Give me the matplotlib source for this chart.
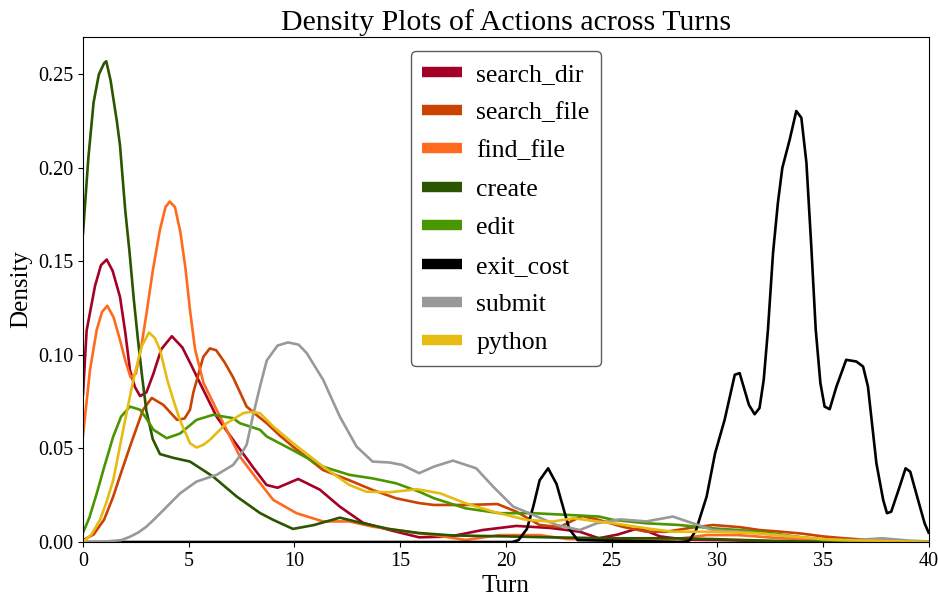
import matplotlib
matplotlib.use('Agg')
import matplotlib.pyplot as plt
from matplotlib.lines import Line2D

plt.rcParams['font.family'] = ['Liberation Serif', 'DejaVu Serif']

# values (turn, density)
create_x = [0, 0.25, 0.5, 0.75, 1.0, 1.1, 1.3, 1.6, 1.75, 2.0, 2.2, 2.4, 2.6, 2.8, 3.0, 3.3, 3.64, 4.27, 5.06,
            6.15, 7.27, 8.37, 9.0, 9.93, 10.9, 12.15, 13.24, 14.5, 15.9, 17.5, 20, 22, 25, 28, 30, 32, 34, 40]
create_y = [0.165, 0.205, 0.235, 0.25, 0.256, 0.257, 0.247, 0.225, 0.212, 0.177, 0.155, 0.13, 0.108, 0.088,
            0.07, 0.055, 0.047, 0.045, 0.043, 0.035, 0.0243, 0.0155, 0.0118, 0.0070, 0.009, 0.013, 0.010,
            0.0069, 0.0048, 0.0035, 0.003, 0.0025, 0.002, 0.002, 0.0015, 0.0008, 0.0002, 0.0]

search_dir_x = [0, 0.17, 0.57, 0.85, 1.12, 1.4, 1.75, 2.0, 2.22, 2.45, 2.7, 3.0, 3.33, 3.7, 4.2, 4.7, 5.1, 5.53,
                6.32, 7.1, 8.04, 8.68, 9.2, 10.18, 11.2, 12.15, 13.24, 14.5, 15.9, 17.35, 18.9, 20.5, 22.1,
                23.5, 24.4, 25.3, 26.3, 27.3, 28.5, 30, 33, 40]
search_dir_y = [0.079, 0.113, 0.137, 0.148, 0.151, 0.145, 0.131, 0.112, 0.092, 0.083, 0.078, 0.08, 0.09,
                0.103, 0.110, 0.104, 0.095, 0.085, 0.067, 0.0546, 0.040, 0.0305, 0.029, 0.0337, 0.028,
                0.0189, 0.0103, 0.0064, 0.0025, 0.0029, 0.0064, 0.0086, 0.0075, 0.0055, 0.002, 0.004,
                0.0075, 0.003, 0.0012, 0.001, 0.0003, 0.0]

search_file_x = [0, 0.5, 1.0, 1.42, 1.8, 2.22, 2.84, 3.25, 3.8, 4.45, 4.8, 5.06, 5.22, 5.69, 6.0, 6.3, 6.7,
                 7.1, 7.74, 8.2, 8.69, 9.3, 9.93, 10.5, 11.35, 12.6, 13.7, 14.8, 15.9, 16.6, 18.1, 19.6,
                 20.5, 21.6, 22.55, 23.6, 24.4, 25.5, 26.65, 27.6, 28.7, 29.8, 31.1, 32, 33, 34, 35, 36,
                 37, 38, 40]
search_file_y = [0.001, 0.004, 0.012, 0.024, 0.037, 0.051, 0.0707, 0.077, 0.0733, 0.0653, 0.066, 0.0707,
                 0.08, 0.099, 0.1035, 0.1025, 0.096, 0.088, 0.0724, 0.068, 0.0635, 0.057, 0.051, 0.046,
                 0.0385, 0.033, 0.0278, 0.0234, 0.0208, 0.0198, 0.0198, 0.0203, 0.0162, 0.0091, 0.008,
                 0.0139, 0.0118, 0.0082, 0.0055, 0.0055, 0.0075, 0.0091, 0.0079, 0.0064, 0.0055, 0.0045,
                 0.003, 0.002, 0.0012, 0.0006, 0.0]

find_file_x = [0, 0.33, 0.65, 0.9, 1.15, 1.45, 1.75, 2.0, 2.25, 2.5, 2.75, 3.0, 3.3, 3.64, 3.9, 4.1, 4.35,
               4.6, 4.85, 5.06, 5.3, 5.7, 6.32, 7.1, 7.42, 8.2, 9.0, 10.1, 11.35, 12.6, 13.7, 14.8, 15.9,
               16.6, 18.1, 19.7, 21.6, 22.9, 25, 28, 29.5, 31, 33, 35, 40]
find_file_y = [0.057, 0.092, 0.1135, 0.123, 0.1263, 0.12, 0.108, 0.097, 0.088, 0.09, 0.104, 0.122, 0.145,
               0.167, 0.179, 0.182, 0.179, 0.166, 0.146, 0.124, 0.103, 0.085, 0.0707, 0.053, 0.0457, 0.034,
               0.0225, 0.0154, 0.011, 0.011, 0.0082, 0.0064, 0.0046, 0.0037, 0.0011, 0.0037, 0.0037,
               0.0016, 0.001, 0.0015, 0.0037, 0.0037, 0.002, 0.001, 0.0]

edit_x = [0, 0.3, 0.65, 1.0, 1.43, 1.8, 2.22, 2.7, 3.0, 3.33, 3.96, 4.59, 5.37, 6.16, 7.1, 7.42, 8.37, 8.69,
          9.94, 11.35, 12.6, 13.7, 14.8, 15.9, 16.6, 18.1, 19.7, 21.3, 22.9, 24.4, 25.1, 26.65, 28.2, 29.8,
          31, 32, 33, 34, 35, 36, 40]
edit_y = [0.005, 0.013, 0.026, 0.04, 0.0564, 0.067, 0.0724, 0.0707, 0.066, 0.060, 0.0555, 0.058, 0.0653,
          0.068, 0.0662, 0.0635, 0.060, 0.0564, 0.049, 0.0403, 0.0359, 0.034, 0.0314, 0.0269, 0.0234, 0.018,
          0.0154, 0.0154, 0.0145, 0.0136, 0.0118, 0.010, 0.0091, 0.0073, 0.0064, 0.0055, 0.004, 0.0025,
          0.0012, 0.0005, 0.0]

exit_cost_x = [0, 20.3, 20.6, 21.0, 21.3, 21.6, 22.0, 22.4, 22.7, 23.0, 23.4, 28.5, 28.7, 29.0, 29.2, 29.5,
               29.9, 30.35, 30.83, 31.06, 31.5, 31.77, 32.0, 32.2, 32.4, 32.64, 32.87, 33.08, 33.43, 33.74,
               33.98, 34.22, 34.45, 34.66, 34.88, 35.08, 35.32, 35.64, 36.1, 36.58, 36.9, 37.13, 37.53,
               37.85, 38.03, 38.23, 38.63, 38.91, 39.13, 39.5, 39.81, 40]
exit_cost_y = [0, 0, 0.001, 0.007, 0.019, 0.033, 0.0394, 0.031, 0.019, 0.007, 0.001, 0, 0.001, 0.0064,
               0.0136, 0.0243, 0.0475, 0.0653, 0.0894, 0.0903, 0.0733, 0.0683, 0.0716, 0.0867, 0.1135,
               0.1545, 0.1813, 0.200, 0.2152, 0.2304, 0.2268, 0.2027, 0.158, 0.1135, 0.085, 0.0724, 0.071,
               0.0831, 0.0974, 0.0965, 0.0938, 0.0831, 0.0421, 0.0225, 0.0154, 0.0162, 0.0296, 0.0394,
               0.0376, 0.0225, 0.010, 0.005]

submit_x = [0, 1, 1.8, 2.22, 2.6, 3.0, 3.4, 3.8, 4.59, 5.37, 6.32, 7.1, 7.42, 7.74, 8.05, 8.37, 8.69, 9.2,
            9.7, 10.2, 10.58, 11.36, 12.15, 12.94, 13.7, 14.5, 15.1, 15.9, 16.6, 17.5, 18.6, 19.4, 20.35,
            21.3, 22.4, 23.5, 24.3, 25.4, 26.65, 27.9, 28.85, 29.8, 31.1, 32, 33.5, 35, 36.5, 37.8, 39, 40]
submit_y = [0, 0.0002, 0.001, 0.0028, 0.005, 0.0082, 0.0125, 0.017, 0.026, 0.0323, 0.0359, 0.0412, 0.046,
            0.052, 0.068, 0.083, 0.097, 0.105, 0.1067, 0.1055, 0.101, 0.0867, 0.067, 0.051, 0.043, 0.0425,
            0.0412, 0.0368, 0.0403, 0.0435, 0.0394, 0.0296, 0.0189, 0.0145, 0.0091, 0.0064, 0.010, 0.0121,
            0.011, 0.0136, 0.010, 0.0064, 0.0055, 0.0046, 0.003, 0.0015, 0.001, 0.002, 0.0008, 0.0003]

python_x = [0, 0.4, 0.8, 1.1, 1.43, 1.9, 2.38, 2.77, 3.12, 3.4, 3.64, 4.0, 4.3, 4.59, 5.06, 5.37, 5.7, 6.0,
            6.79, 7.58, 7.9, 8.37, 9.0, 9.94, 11.36, 12.6, 13.4, 14.5, 15.8, 16.9, 18.1, 19.4, 20.98, 22.2,
            23.2, 24.4, 25.1, 26.65, 27.9, 29.8, 32, 33, 34, 35, 36, 40]
python_y = [0.0, 0.004, 0.0118, 0.021, 0.033, 0.060, 0.0867, 0.1045, 0.112, 0.109, 0.1028, 0.086, 0.075,
            0.065, 0.0528, 0.0505, 0.052, 0.0546, 0.0635, 0.0689, 0.0695, 0.0689, 0.0617, 0.0528, 0.0403,
            0.0305, 0.0269, 0.0266, 0.0282, 0.026, 0.0207, 0.0162, 0.0118, 0.0109, 0.0127, 0.0109, 0.010,
            0.0073, 0.0055, 0.0055, 0.0046, 0.0035, 0.0025, 0.0015, 0.001, 0.0]

actions = ['search_dir', 'search_file', 'find_file', 'create', 'edit', 'exit_cost', 'submit', 'python']
colors = ['#a50026', '#cc4200', '#ff6a1f', '#2b5500', '#4a9600', '#000000', '#999999', '#e6bb12']
series = [(search_dir_x, search_dir_y), (search_file_x, search_file_y), (find_file_x, find_file_y),
          (create_x, create_y), (edit_x, edit_y), (exit_cost_x, exit_cost_y),
          (submit_x, submit_y), (python_x, python_y)]

fig, ax = plt.subplots(figsize=(9.38, 5.96), dpi=100)
fig.subplots_adjust(left=0.0885, right=0.990, bottom=0.0906, top=0.938)

for name, c, (xs, ys) in zip(actions, colors, series):
    ax.plot(xs, ys, color=c, lw=1.9, label=name, solid_joinstyle='round')

ax.set_xlim(0, 40)
ax.set_ylim(0, 0.27)
ax.set_xticks([0, 5, 10, 15, 20, 25, 30, 35, 40])
ax.set_yticks([0, 0.05, 0.10, 0.15, 0.20, 0.25])
ax.set_yticklabels(['0.00', '0.05', '0.10', '0.15', '0.20', '0.25'])
ax.tick_params(labelsize=14.5)
ax.set_xlabel('Turn', fontsize=18, labelpad=3)
ax.set_ylabel('Density', fontsize=18, labelpad=4)
ax.set_title('Density Plots of Actions across Turns', fontsize=21.5, pad=5)

handles = [Line2D([0], [0], color=c, lw=7.5, solid_capstyle='butt') for c in colors]
leg = ax.legend(handles, actions, loc='upper center', fontsize=18.5, frameon=True, fancybox=True,
                edgecolor='#333333', handlelength=1.55, handletextpad=0.55, labelspacing=0.6,
                borderpad=0.45, borderaxespad=0.55)
leg.get_frame().set_linewidth(1.0)

plt.savefig('out.png')
